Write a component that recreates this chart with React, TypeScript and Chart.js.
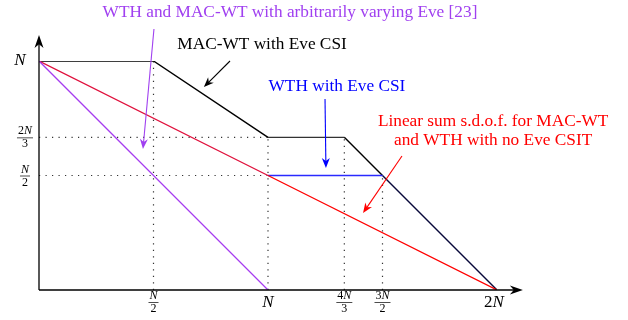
import React, { useEffect, useRef } from "react";
import { Chart, registerables } from "chart.js";

Chart.register(...registerables);

// Values in units of N
const macWtX = [0, 0.5, 1, 4 / 3, 1.5, 2];
const macWtY = [1, 1, 2 / 3, 2 / 3, 0.5, 0];
const wthX = [1, 1.5];
const wthY = [0.5, 0.5];
const linearX = [0, 1, 2];
const linearY = [1, 0.5, 0];
const arbX = [0, 1];
const arbY = [1, 0];

// dotted guide lines [x1, y1, x2, y2]
const guides: number[][] = [
  [0, 2 / 3, 1, 2 / 3],
  [0, 0.5, 1, 0.5],
  [0.5, 0, 0.5, 1],
  [1, 0, 1, 2 / 3],
  [4 / 3, 0, 4 / 3, 2 / 3],
  [1.5, 0, 1.5, 0.5],
];

const xTickValues = [0.5, 1, 4 / 3, 1.5, 2];
const xTickLabels: (string | string[])[] = [["N", "2"], "N", ["4N", "3"], ["3N", "2"], "2N"];
const yTickValues = [1, 2 / 3, 0.5];
const yTickLabels: (string | string[])[] = ["N", ["2N", "3"], ["N", "2"]];

const annotationTexts = [
  { text: "WTH and MAC-WT with arbitrarily varying Eve [23]", x: 1.096, y: 1.21, color: "#a040f0" },
  { text: "MAC-WT with Eve CSI", x: 0.974, y: 1.074, color: "#000000" },
  { text: "WTH with Eve CSI", x: 1.301, y: 0.891, color: "#0000ff" },
  { text: "Linear sum s.d.o.f. for MAC-WT", x: 1.983, y: 0.734, color: "#ff0000" },
  { text: "and WTH with no Eve CSIT", x: 1.983, y: 0.651, color: "#ff0000" },
];

const annotationArrows = [
  { from: [0.502, 1.14], to: [0.454, 0.616], color: "#a040f0" },
  { from: [0.834, 1.0], to: [0.72, 0.886], color: "#000000" },
  { from: [1.249, 0.834], to: [1.253, 0.533], color: "#0000ff" },
  { from: [1.585, 0.585], to: [1.415, 0.336], color: "#ff0000" },
];

const axisEnd = { x: 2.113, y: 1.113 };

const zip = (xs: number[], ys: number[]) => xs.map((x, i) => ({ x, y: ys[i] }));

function arrowHead(ctx: CanvasRenderingContext2D, x1: number, y1: number, x2: number, y2: number, len: number, half: number, color: string) {
  const a = Math.atan2(y2 - y1, x2 - x1);
  const bx = x2 - len * Math.cos(a);
  const by = y2 - len * Math.sin(a);
  const mx = x2 - len * 0.7 * Math.cos(a);
  const my = y2 - len * 0.7 * Math.sin(a);
  ctx.fillStyle = color;
  ctx.beginPath();
  ctx.moveTo(x2, y2);
  ctx.lineTo(bx + half * Math.sin(a), by - half * Math.cos(a));
  ctx.lineTo(mx, my);
  ctx.lineTo(bx - half * Math.sin(a), by + half * Math.cos(a));
  ctx.closePath();
  ctx.fill();
}

const BIG = 17;
const SMALL = 12;

function measureMath(ctx: CanvasRenderingContext2D, s: string, size: number) {
  let w = 0;
  for (const ch of s) {
    ctx.font = /[0-9]/.test(ch) ? `${size}px 'Liberation Serif'` : `italic ${size}px 'Liberation Serif'`;
    w += ctx.measureText(ch).width;
  }
  return w;
}

function drawMath(ctx: CanvasRenderingContext2D, s: string, cx: number, cy: number, size: number) {
  const total = measureMath(ctx, s, size);
  let x = cx - total / 2;
  ctx.textAlign = "left";
  ctx.textBaseline = "middle";
  for (const ch of s) {
    ctx.font = /[0-9]/.test(ch) ? `${size}px 'Liberation Serif'` : `italic ${size}px 'Liberation Serif'`;
    ctx.fillText(ch, x, cy);
    x += ctx.measureText(ch).width;
  }
}

function drawLabel(ctx: CanvasRenderingContext2D, label: string | string[], cx: number, cy: number) {
  ctx.fillStyle = "#000";
  if (typeof label === "string") {
    drawMath(ctx, label, cx, cy, BIG);
  } else {
    drawMath(ctx, label[0], cx, cy - 6, SMALL);
    drawMath(ctx, label[1], cx, cy + 7, SMALL);
    const w = Math.max(measureMath(ctx, label[0], SMALL), measureMath(ctx, label[1], SMALL)) + 2;
    ctx.strokeStyle = "#000";
    ctx.lineWidth = 0.7;
    ctx.beginPath();
    ctx.moveTo(cx - w / 2, cy + 0.5);
    ctx.lineTo(cx + w / 2, cy + 0.5);
    ctx.stroke();
  }
}

const decorPlugin = {
  id: "decor",
  beforeDatasetsDraw(chart: any) {
    const ctx: CanvasRenderingContext2D = chart.ctx;
    const xs = chart.scales.x;
    const ys = chart.scales.y;
    ctx.save();
    ctx.strokeStyle = "#333";
    ctx.lineWidth = 1.2;
    ctx.setLineDash([1.2, 5.3]);
    for (const g of guides) {
      ctx.beginPath();
      ctx.moveTo(xs.getPixelForValue(g[0]), ys.getPixelForValue(g[1]));
      ctx.lineTo(xs.getPixelForValue(g[2]), ys.getPixelForValue(g[3]));
      ctx.stroke();
    }
    ctx.restore();
  },
  afterDraw(chart: any) {
    const ctx: CanvasRenderingContext2D = chart.ctx;
    const xs = chart.scales.x;
    const ys = chart.scales.y;
    const px = (v: number) => xs.getPixelForValue(v);
    const py = (v: number) => ys.getPixelForValue(v);
    ctx.save();
    // axes
    ctx.strokeStyle = "#000";
    ctx.lineWidth = 1.3;
    ctx.setLineDash([]);
    ctx.beginPath();
    ctx.moveTo(px(0), py(0));
    ctx.lineTo(px(axisEnd.x) - 6, py(0));
    ctx.moveTo(px(0), py(0));
    ctx.lineTo(px(0), py(axisEnd.y) + 6);
    ctx.stroke();
    arrowHead(ctx, px(0), py(0), px(axisEnd.x), py(0), 13, 4.5, "#000");
    arrowHead(ctx, px(0), py(0), px(0), py(axisEnd.y), 13, 4.5, "#000");

    // tick labels
    xTickValues.forEach((v, i) => {
      const lab = xTickLabels[i];
      const single = typeof lab === "string";
      drawLabel(ctx, lab, px(v) - (single && lab.length > 1 ? 3 : 0), single ? py(0) + 13 : py(0) + 12);
    });
    yTickValues.forEach((v, i) => {
      const lab = yTickLabels[i];
      drawLabel(ctx, lab, typeof lab === "string" ? px(0) - 19 : px(0) - 14, py(v));
    });

    // annotation texts
    ctx.textAlign = "center";
    ctx.textBaseline = "middle";
    ctx.font = "17.3px 'Liberation Serif'";
    for (const t of annotationTexts) {
      ctx.fillStyle = t.color;
      ctx.fillText(t.text, px(t.x), py(t.y));
    }
    // annotation arrows
    for (const a of annotationArrows) {
      const x1 = px(a.from[0]), y1 = py(a.from[1]);
      const x2 = px(a.to[0]), y2 = py(a.to[1]);
      const ang = Math.atan2(y2 - y1, x2 - x1);
      ctx.strokeStyle = a.color;
      ctx.lineWidth = 1.1;
      ctx.beginPath();
      ctx.moveTo(x1, y1);
      ctx.lineTo(x2 - 6 * Math.cos(ang), y2 - 6 * Math.sin(ang));
      ctx.stroke();
      arrowHead(ctx, x1, y1, x2, y2, 10, 4, a.color);
    }
    ctx.restore();
  },
};

export default function App() {
  const ref = useRef<HTMLCanvasElement>(null);
  useEffect(() => {
    document.body.style.margin = "0";
    const chart = new Chart(ref.current!, {
      type: "scatter",
      data: {
        datasets: [
          {
            data: zip(arbX, arbY),
            showLine: true,
            borderColor: "#a63cf0",
            borderWidth: 1.3,
            pointRadius: 0,
          },
          {
            data: zip(linearX, linearY),
            showLine: true,
            borderColor: "#ff0000",
            borderWidth: 1.3,
            pointRadius: 0,
            segment: {
              borderColor: (c: any) => (c.p0DataIndex === 0 ? "#e0103c" : "#ff0000"),
            },
          },
          {
            data: zip(wthX, wthY),
            showLine: true,
            borderColor: "#2a2aff",
            borderWidth: 1.4,
            pointRadius: 0,
          },
          {
            data: zip(macWtX, macWtY),
            showLine: true,
            borderColor: "#000000",
            borderWidth: 1.4,
            pointRadius: 0,
            segment: {
              borderColor: (c: any) => (c.p0DataIndex === 4 ? "#08083a" : c.p0DataIndex === 2 ? "#333333" : "#000000"),
            },
          },
        ],
      } as any,
      options: {
        animation: false,
        responsive: false,
        devicePixelRatio: 1,
        layout: { padding: { left: 39, right: 131, top: 61, bottom: 30 } },
        scales: {
          x: { type: "linear", min: 0, max: 2, display: false },
          y: { type: "linear", min: 0, max: 1, display: false },
        },
        plugins: { legend: { display: false }, tooltip: { enabled: false } },
        elements: { line: { tension: 0 } },
      } as any,
      plugins: [decorPlugin],
    });
    return () => chart.destroy();
  }, []);
  return (
    <div style={{ position: "absolute", left: 0, top: 0, width: 628, height: 320, background: "#fff" }}>
      <canvas ref={ref} width={628} height={320} />
    </div>
  );
}
